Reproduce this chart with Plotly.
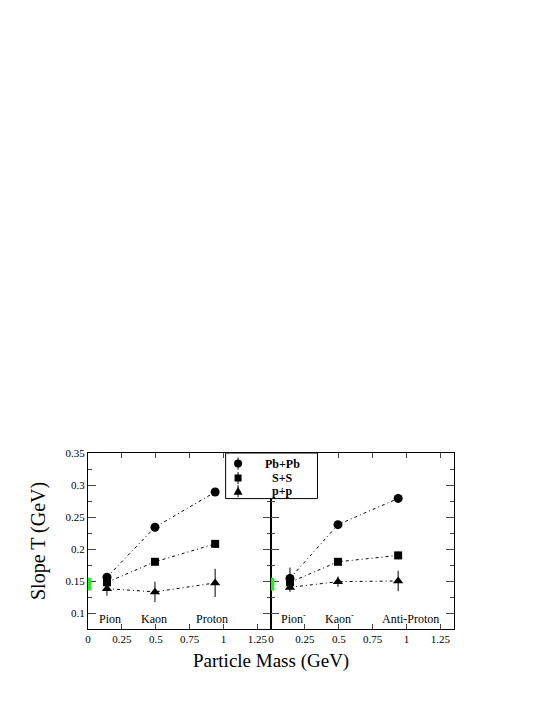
import plotly.graph_objects as go

# particle masses (GeV)
mass_pos = [0.14, 0.494, 0.938]
mass_neg = [0.14, 0.494, 0.938]

# positive particles: pion, kaon, proton
pbpb_pos = [0.156, 0.234, 0.289]
pbpb_pos_err = [0.005, 0.004, 0.005]
ss_pos = [0.148, 0.180, 0.208]
ss_pos_err = [0.005, 0.005, 0.006]
pp_pos = [0.138, 0.133, 0.147]
pp_pos_err = [0.011, 0.016, 0.022]

# negative particles: pion-, kaon-, anti-proton
pbpb_neg = [0.154, 0.238, 0.279]
pbpb_neg_err = [0.017, 0.005, 0.007]
ss_neg = [0.148, 0.180, 0.190]
ss_neg_err = [0.006, 0.005, 0.006]
pp_neg = [0.140, 0.149, 0.150]
pp_neg_err = [0.007, 0.008, 0.016]

labels_pos = ["Pion", "Kaon", "Proton"]
labels_pos_x = [0.163, 0.49, 0.917]
labels_neg = ["Pion<sup>-</sup>", "Kaon<sup>-</sup>", "Anti-Proton"]
labels_neg_x = [0.166, 0.506, 1.03]
label_y = 0.091

# green band near zero mass
band_x = [0, 0.025]
band_y = [0.135, 0.155]

systems = ["Pb+Pb", "S+S", "p+p"]
symbols = ["circle", "square", "triangle-up"]
sizes = [9, 8, 9]

FONT = "Liberation Serif, Times New Roman, serif"
dash = "3px,3px,1px,3px"

fig = go.Figure()

series = [
    (pbpb_pos, pbpb_pos_err, pbpb_neg, pbpb_neg_err),
    (ss_pos, ss_pos_err, ss_neg, ss_neg_err),
    (pp_pos, pp_pos_err, pp_neg, pp_neg_err),
]

for i, (yp, ep, yn, en) in enumerate(series):
    for xs, ys, es, xa, ya in [(mass_pos, yp, ep, "x", "y"), (mass_neg, yn, en, "x2", "y2")]:
        fig.add_trace(go.Scatter(
            x=xs, y=ys, mode="lines+markers", name=systems[i],
            xaxis=xa, yaxis=ya, showlegend=False,
            line=dict(color="black", width=1, dash=dash),
            marker=dict(symbol=symbols[i], size=sizes[i], color="black"),
            error_y=dict(type="data", array=es, width=0, thickness=1, color="black"),
        ))

for xr, yr in [("x", "y"), ("x2", "y2")]:
    fig.add_shape(type="rect", xref=xr, yref=yr,
                  x0=band_x[0], x1=band_x[1], y0=band_y[0], y1=band_y[1],
                  fillcolor="#22ee22", line=dict(width=0), layer="above")

for txt, xv in zip(labels_pos, labels_pos_x):
    fig.add_annotation(text=txt, x=xv, y=label_y, xref="x", yref="y",
                       showarrow=False, font=dict(family=FONT, size=12, color="black"))
for txt, xv in zip(labels_neg, labels_neg_x):
    fig.add_annotation(text=txt, x=xv, y=label_y, xref="x2", yref="y2",
                       showarrow=False, font=dict(family=FONT, size=12, color="black"))

# legend box drawn by hand (covers the middle frame line like the original)
leg_x0, leg_x1, leg_y0, leg_y1 = 0.376, 0.627, 0.741, 1.0
leg_sym_x = 0.41
leg_txt_x = 0.532
leg_rows = [0.940, 0.858, 0.783]
fig.add_shape(type="rect", xref="paper", yref="paper",
              x0=leg_x0, x1=leg_x1, y0=leg_y0, y1=leg_y1,
              fillcolor="white", line=dict(color="black", width=1), layer="above")
for i, yr in enumerate(leg_rows):
    common = dict(xref="paper", yref="paper", xsizemode="pixel", ysizemode="pixel",
                  xanchor=leg_sym_x, yanchor=yr, layer="above")
    fig.add_shape(type="line", x0=0, x1=0, y0=-6, y1=6,
                  line=dict(color="black", width=1), **common)
    if symbols[i] == "circle":
        fig.add_shape(type="circle", x0=-4, x1=4, y0=-4, y1=4,
                      fillcolor="black", line=dict(width=0), **common)
    elif symbols[i] == "square":
        fig.add_shape(type="rect", x0=-3.5, x1=3.5, y0=-3.5, y1=3.5,
                      fillcolor="black", line=dict(width=0), **common)
    else:
        fig.add_shape(type="path", path="M -4.5 -3.5 L 4.5 -3.5 L 0 4.5 Z",
                      fillcolor="black", line=dict(width=0), **common)
    fig.add_annotation(text="<b>" + systems[i] + "</b>", x=leg_txt_x, y=yr,
                       xref="paper", yref="paper", xanchor="center", yanchor="middle",
                       showarrow=False, font=dict(family=FONT, size=12, color="black"))

fig.add_annotation(text="Slope T (GeV)", x=0, y=0.5, xref="paper", yref="paper",
                   xshift=-50, xanchor="center", yanchor="middle", textangle=-90,
                   showarrow=False, font=dict(family=FONT, size=20, color="black"))
fig.add_annotation(text="Particle Mass (GeV)", x=0.5, y=0, xref="paper", yref="paper",
                   yshift=-19, xanchor="center", yanchor="top", showarrow=False,
                   font=dict(family=FONT, size=19, color="black"))

xax = dict(range=[0, 1.35], dtick=0.25, tick0=0, ticks="inside", ticklen=5,
           showline=True, linecolor="black", linewidth=1.3, mirror="ticks",
           showgrid=False, zeroline=False,
           tickfont=dict(family=FONT, size=11, color="black"))
yax = dict(range=[0.075, 0.35], dtick=0.05, tick0=0.1, ticks="inside", ticklen=8,
           minor=dict(dtick=0.025, ticks="inside", ticklen=4),
           showline=True, linecolor="black", linewidth=1.3, mirror="ticks",
           showgrid=False, zeroline=False,
           tickfont=dict(family=FONT, size=11, color="black"))

fig.update_layout(
    width=537, height=697,
    margin=dict(l=80, r=91, t=445, b=76),
    plot_bgcolor="white", paper_bgcolor="white",
    xaxis=dict(xax, domain=[0, 0.5], anchor="y"),
    yaxis=dict(yax, anchor="x"),
    xaxis2=dict(xax, domain=[0.5, 1], anchor="y2"),
    yaxis2=dict(yax, anchor="x2", showticklabels=False),
    showlegend=False,
)

fig.write_html("out.html")
